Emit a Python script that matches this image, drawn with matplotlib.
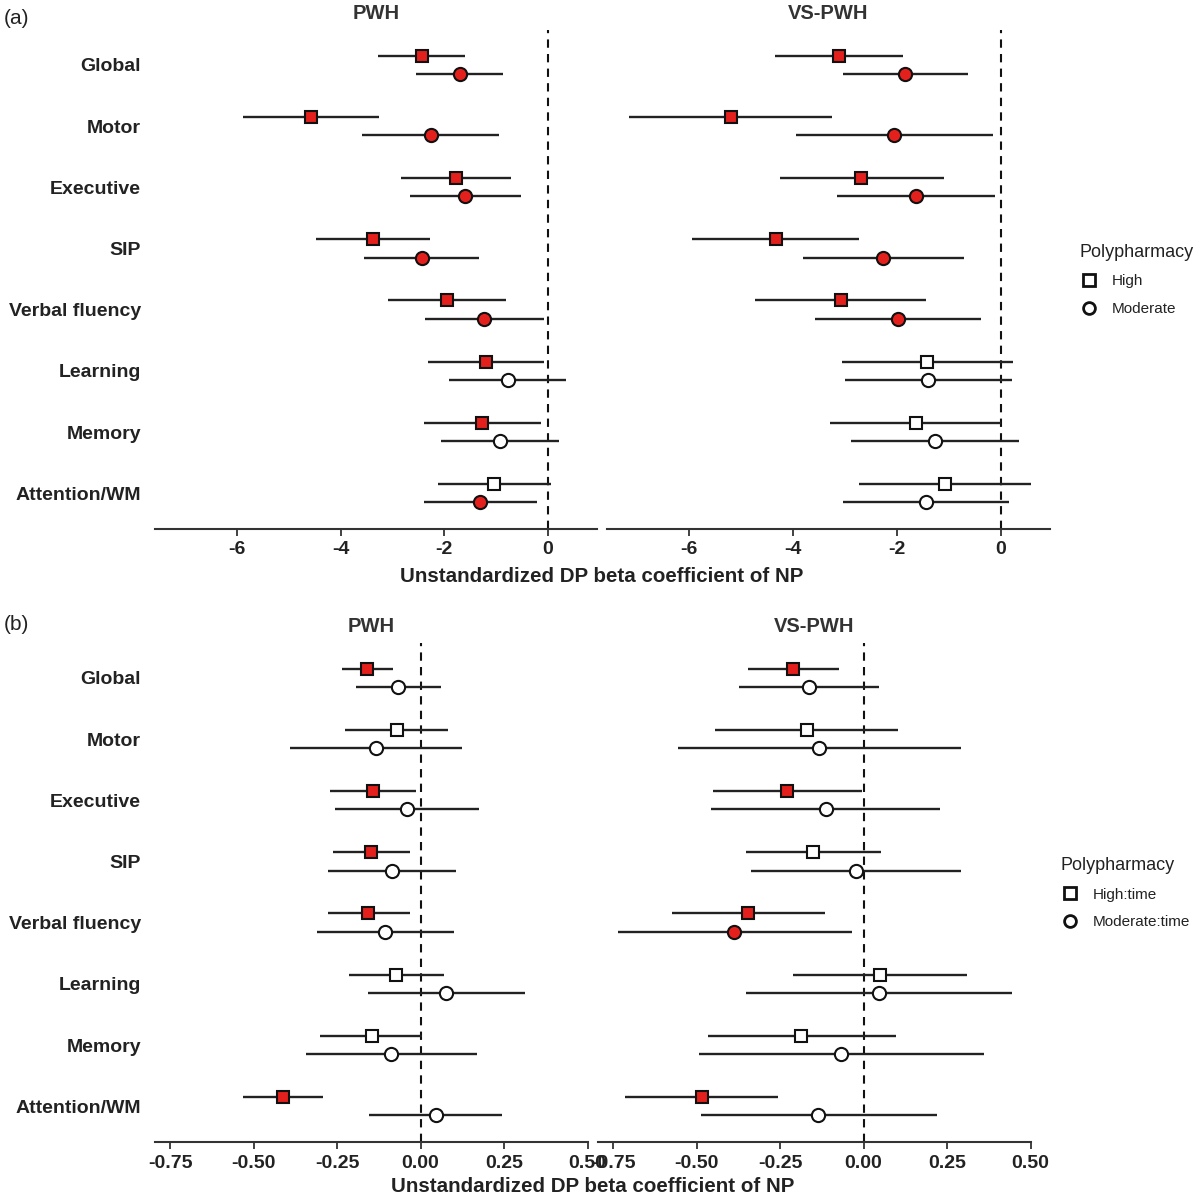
import matplotlib
matplotlib.use("Agg")
import matplotlib.pyplot as plt
from matplotlib.lines import Line2D

plt.rcParams['font.family'] = ['Liberation Sans', 'DejaVu Sans']

# outcome domains, top to bottom
domains = ["Global", "Motor", "Executive", "SIP", "Verbal fluency",
           "Learning", "Memory", "Attention/WM"]

# (a) baseline effects -- PWH
a_pwh_high = [-2.43, -4.57, -1.78, -3.38, -1.95, -1.20, -1.26, -1.03]
a_pwh_high_lo = [-3.28, -5.88, -2.84, -4.48, -3.08, -2.32, -2.38, -2.12]
a_pwh_high_hi = [-1.60, -3.26, -0.71, -2.27, -0.80, -0.08, -0.14, 0.07]
a_pwh_mod = [-1.70, -2.26, -1.60, -2.43, -1.23, -0.77, -0.93, -1.30]
a_pwh_mod_lo = [-2.55, -3.58, -2.66, -3.54, -2.37, -1.91, -2.06, -2.39]
a_pwh_mod_hi = [-0.86, -0.95, -0.52, -1.33, -0.08, 0.35, 0.21, -0.21]

# (a) baseline effects -- VS-PWH
a_vs_high = [-3.12, -5.20, -2.68, -4.33, -3.08, -1.42, -1.63, -1.08]
a_vs_high_lo = [-4.35, -7.15, -4.25, -5.94, -4.73, -3.06, -3.28, -2.72]
a_vs_high_hi = [-1.88, -3.24, -1.10, -2.73, -1.43, 0.23, 0.01, 0.58]
a_vs_mod = [-1.84, -2.05, -1.63, -2.26, -1.98, -1.39, -1.27, -1.44]
a_vs_mod_lo = [-3.03, -3.95, -3.16, -3.81, -3.58, -2.99, -2.89, -3.04]
a_vs_mod_hi = [-0.63, -0.15, -0.10, -0.70, -0.38, 0.21, 0.35, 0.16]

# (b) interaction with time -- PWH
b_pwh_high = [-0.160, -0.071, -0.143, -0.148, -0.156, -0.073, -0.147, -0.411]
b_pwh_high_lo = [-0.235, -0.227, -0.272, -0.263, -0.277, -0.214, -0.301, -0.531]
b_pwh_high_hi = [-0.084, 0.083, -0.014, -0.032, -0.032, 0.070, 0.003, -0.291]
b_pwh_mod = [-0.067, -0.134, -0.041, -0.086, -0.107, 0.077, -0.088, 0.045]
b_pwh_mod_lo = [-0.192, -0.391, -0.255, -0.277, -0.311, -0.158, -0.343, -0.153]
b_pwh_mod_hi = [0.060, 0.123, 0.174, 0.106, 0.099, 0.313, 0.168, 0.245]

# (b) interaction with time -- VS-PWH
b_vs_high = [-0.210, -0.170, -0.228, -0.151, -0.346, 0.049, -0.186, -0.485]
b_vs_high_lo = [-0.346, -0.444, -0.451, -0.352, -0.573, -0.211, -0.465, -0.715]
b_vs_high_hi = [-0.075, 0.103, -0.005, 0.052, -0.117, 0.309, 0.096, -0.255]
b_vs_mod = [-0.164, -0.134, -0.113, -0.024, -0.387, 0.045, -0.068, -0.136]
b_vs_mod_lo = [-0.373, -0.555, -0.456, -0.337, -0.734, -0.352, -0.494, -0.488]
b_vs_mod_hi = [0.045, 0.290, 0.229, 0.290, -0.034, 0.443, 0.361, 0.219]

RED = '#E3201C'
LINE = '#222222'
W, H = 1200, 1198


def px_axes(x0, y0, x1, y1):
    # pixel box (top-left origin) -> figure fraction
    return fig.add_axes([x0 / W, 1 - y1 / H, (x1 - x0) / W, (y1 - y0) / H])


def forest(ax, high, hlo, hhi, mod, mlo, mhi, xlim, xticks, xticklabels, show_y):
    ys = [len(domains) - i for i in range(len(domains))]
    ax.axvline(0, color='#111111', ls=(0, (4, 3)), lw=1.5, zorder=1)
    for k in range(len(domains)):
        y = ys[k]
        for est, lo, hi, mk, dy, ms in [(high[k], hlo[k], hhi[k], 's', 0.15, 8.5),
                                        (mod[k], mlo[k], mhi[k], 'o', -0.15, 9.5)]:
            sig = hi < 0 or lo > 0
            ax.hlines(y + dy, lo, hi, color=LINE, lw=1.7, zorder=2)
            ax.plot(est, y + dy, marker=mk, ms=ms, mfc=RED if sig else 'white',
                    mec='#111111', mew=1.5, zorder=3, ls='none')
    ax.set_xlim(*xlim)
    ax.set_ylim(0.415, 8.57)
    for s in ['top', 'right', 'left']:
        ax.spines[s].set_visible(False)
    ax.spines['bottom'].set_color('#333333')
    ax.spines['bottom'].set_linewidth(1.5)
    ax.set_xticks(xticks)
    ax.set_xticklabels(xticklabels, fontsize=14, fontweight='bold', color='#222222')
    ax.tick_params(axis='x', length=5, width=1.3, color='#333333', pad=4)
    ax.set_yticks(ys)
    if show_y:
        ax.set_yticklabels(domains, fontsize=14, fontweight='bold', color='#222222')
        ax.tick_params(axis='y', length=0, pad=10)
    else:
        ax.set_yticklabels([])
        ax.tick_params(axis='y', length=0)


fig = plt.figure(figsize=(W / 100, H / 100), dpi=100)

xa = (-7.58, 0.95)
ta = [-6, -4, -2, 0]
ax1 = px_axes(155, 30, 597, 529)
forest(ax1, a_pwh_high, a_pwh_high_lo, a_pwh_high_hi, a_pwh_mod, a_pwh_mod_lo, a_pwh_mod_hi,
       xa, ta, [str(t) for t in ta], True)
ax2 = px_axes(607, 30, 1050, 529)
forest(ax2, a_vs_high, a_vs_high_lo, a_vs_high_hi, a_vs_mod, a_vs_mod_lo, a_vs_mod_hi,
       xa, ta, [str(t) for t in ta], False)

xb = (-0.795, 0.501)
tb = [-0.75, -0.5, -0.25, 0, 0.25, 0.5]
tbl = ['-0.75', '-0.50', '-0.25', '0.00', '0.25', '0.50']
ax3 = px_axes(155, 643, 588, 1142)
forest(ax3, b_pwh_high, b_pwh_high_lo, b_pwh_high_hi, b_pwh_mod, b_pwh_mod_lo, b_pwh_mod_hi,
       xb, tb, tbl, True)
ax4 = px_axes(598, 643, 1031, 1142)
forest(ax4, b_vs_high, b_vs_high_lo, b_vs_high_hi, b_vs_mod, b_vs_mod_lo, b_vs_mod_hi,
       xb, tb, tbl, False)

# titles, axis labels, panel tags
for ax, t in [(ax1, 'PWH'), (ax2, 'VS-PWH'), (ax3, 'PWH'), (ax4, 'VS-PWH')]:
    ax.set_title(t, fontsize=14.5, fontweight='bold', color='#333333', pad=8)

fig.text(602 / W, 1 - 576 / H, 'Unstandardized DP beta coefficient of NP',
         ha='center', va='center', fontsize=14.8, fontweight='bold', color='#222222')
fig.text(593 / W, 1 - 1187 / H, 'Unstandardized DP beta coefficient of NP',
         ha='center', va='center', fontsize=14.8, fontweight='bold', color='#222222')
fig.text(4 / W, 1 - 18 / H, '(a)', ha='left', va='center', fontsize=15, color='#222222')
fig.text(4 / W, 1 - 625 / H, '(b)', ha='left', va='center', fontsize=15, color='#222222')

# legends
def handles(labels):
    return [Line2D([], [], marker='s', ls='none', ms=8, mfc='white', mec='#111111', mew=2,
                   label=labels[0]),
            Line2D([], [], marker='o', ls='none', ms=8.5, mfc='white', mec='#111111', mew=2,
                   label=labels[1])]

leg1 = fig.legend(handles=handles(['High', 'Moderate']), title='Polypharmacy',
                  loc='upper left', bbox_to_anchor=(1066 / W, 1 - 230 / H),
                  frameon=False, fontsize=11, title_fontsize=13, alignment='left',
                  labelspacing=0.9, handletextpad=0.9, handlelength=1.2,
                  labelcolor='#222222')
leg1.get_title().set_color('#222222')
leg2 = fig.legend(handles=handles(['High:time', 'Moderate:time']), title='Polypharmacy',
                  loc='upper left', bbox_to_anchor=(1047 / W, 1 - 843 / H),
                  frameon=False, fontsize=11, title_fontsize=13, alignment='left',
                  labelspacing=0.9, handletextpad=0.9, handlelength=1.2,
                  labelcolor='#222222')
leg2.get_title().set_color('#222222')

fig.savefig('out.png', dpi=100)
